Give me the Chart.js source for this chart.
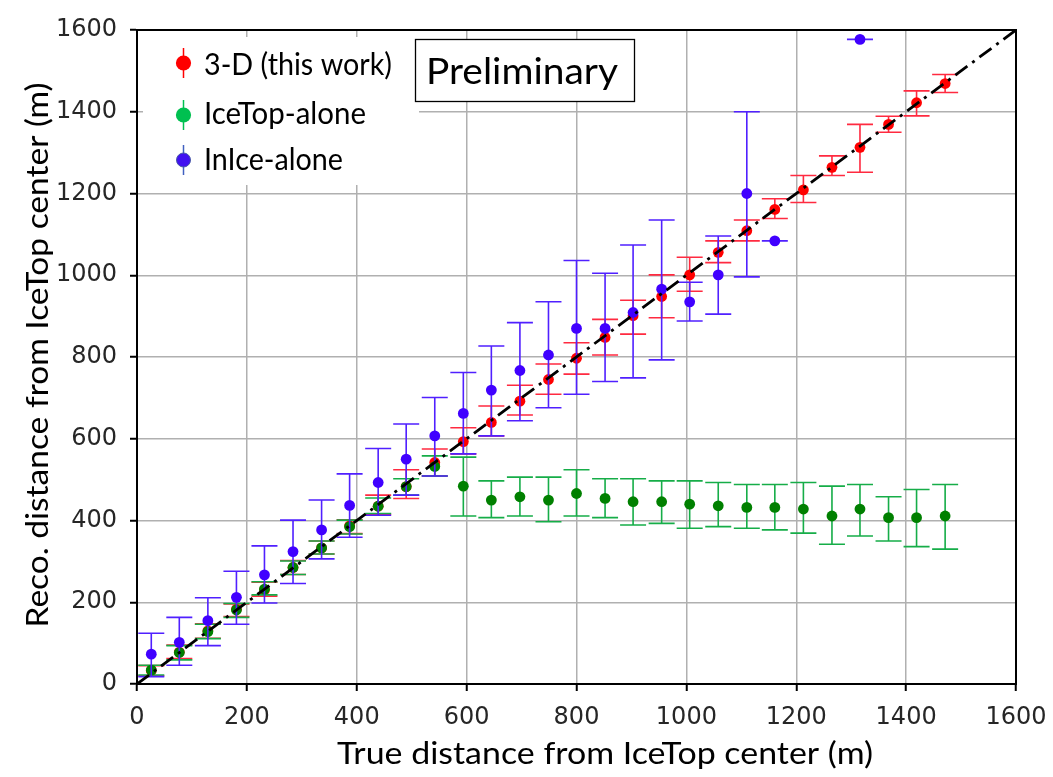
<!DOCTYPE html>
<html><head><meta charset="utf-8">
<script src="https://cdn.jsdelivr.net/npm/chart.js@4.4.1/dist/chart.umd.min.js"></script>
<style>html,body{margin:0;padding:0;background:#fff;} #wrap{width:1053px;height:777px;position:relative;overflow:hidden}</style>
</head><body><div id="wrap"><canvas id="c" width="1053" height="777"></canvas></div>
<script>
// ---- data ----
const trueDist = [26,77,129,181,232,284,336,387,439,490,542,594,645,697,749,800,852,903,955,1006,1058,1110,1161,1213,1265,1316,1368,1419,1471];

const reco3D     = [33,78,130,183,230,285,333,387,435,483,542,593,640,692,745,797,848,901,948,1001,1056,1109,1161,1209,1264,1313,1369,1422,1469];
const reco3DLow  = [20,62,112,165,215,268,318,368,415,454,509,563,607,658,709,758,805,856,896,961,1031,1084,1139,1178,1244,1252,1350,1390,1447];
const reco3DHigh = [45,95,147,196,249,302,350,402,462,524,575,627,680,731,783,835,892,939,1001,1044,1084,1135,1187,1244,1292,1369,1389,1451,1491];

const iceTop     = [34,77,128,181,232,285,333,385,435,483,532,484,450,458,450,466,454,446,446,440,436,432,432,428,411,428,407,407,411];
const iceTopLow  = [22,59,111,163,218,268,318,367,417,462,509,411,407,411,397,411,407,389,393,381,385,381,377,369,342,362,350,336,330];
const iceTopHigh = [46,94,146,197,250,301,350,401,455,502,558,555,497,506,506,524,502,502,497,497,493,488,488,493,484,488,458,476,488];

const inIce      = [73,102,155,212,267,324,377,437,493,550,607,662,719,767,805,870,870,909,966,935,1001,1200,1084,null,null,1577,null,null,null];
const inIceLow   = [18,46,94,146,198,246,306,359,413,462,509,563,607,644,676,709,740,749,793,888,905,996,1084,null,null,1577,null,null,null];
const inIceHigh  = [124,163,211,276,338,401,450,514,576,636,701,762,827,884,935,1036,1005,1074,1135,983,1096,1400,1084,null,null,1577,null,null,null];

const xTicks = [0,200,400,600,800,1000,1200,1400,1600];
const yTicks = [0,200,400,600,800,1000,1200,1400,1600];
const diagonal = [0,1600];

const seriesNames = ['3-D (this work)','IceTop-alone','InIce-alone'];
const xTitle = 'True distance from IceTop center (m)';
const yTitle = 'Reco. distance from IceTop center (m)';
const stampText = 'Preliminary';

// ---- build ----
function pts(ys){ const out=[]; trueDist.forEach((x,i)=>{ if(ys[i]!=null) out.push({x:x, y:ys[i]}); }); return out; }

const FAM = 'Lato, "Open Sans", sans-serif';

const errPlugin = {
  id:'errbars',
  beforeDatasetDraw(chart, args){
    const ds = chart.data.datasets[args.index];
    if(!ds.errLow) return;
    const xs = chart.scales.x, ys = chart.scales.y, ctx = chart.ctx;
    ctx.save();
    ctx.strokeStyle = ds.errColor; ctx.lineWidth = 1.6;
    trueDist.forEach((xv,i)=>{
      if(ds.errLow[i]==null) return;
      const px = xs.getPixelForValue(xv);
      const lo = ys.getPixelForValue(ds.errLow[i]);
      const hi = ys.getPixelForValue(ds.errHigh[i]);
      ctx.beginPath();
      ctx.moveTo(px, lo); ctx.lineTo(px, hi);
      ctx.moveTo(px-13, lo); ctx.lineTo(px+13, lo);
      ctx.moveTo(px-13, hi); ctx.lineTo(px+13, hi);
      ctx.stroke();
    });
    ctx.restore();
  }
};

// draw text at a given font size, squeezed horizontally to a target ink width
function fitText(ctx, text, size, width, x, y, align){
  ctx.font = size+'px '+FAM;
  const sx = width / ctx.measureText(text).width;
  ctx.save();
  ctx.translate(x, y); ctx.scale(sx, 1);
  ctx.textAlign = align; ctx.textBaseline = 'alphabetic';
  ctx.fillText(text, 0, 0);
  ctx.restore();
}

const decoPlugin = {
  id:'deco',
  afterDraw(chart){
    const ctx = chart.ctx, a = chart.chartArea;
    ctx.save();
    ctx.strokeStyle='#000'; ctx.lineWidth=2;
    ctx.strokeRect(a.left, a.top, a.right-a.left, a.bottom-a.top);
    // legend
    ctx.fillStyle='#fff'; ctx.fillRect(143, 37, 276, 148);
    const legCols = [['#ff0000','#ff0000'],['#00c050','#00c050'],['#4010f0','#4060c0']];
    const mY = [63, 115, 160], tY = [75, 123.5, 170], tW = [188, 162, 139];
    seriesNames.forEach((n,i)=>{
      ctx.strokeStyle = legCols[i][1]; ctx.lineWidth = 1.5;
      ctx.beginPath(); ctx.moveTo(183.5, mY[i]-15); ctx.lineTo(183.5, mY[i]+15); ctx.stroke();
      ctx.fillStyle = legCols[i][0];
      ctx.beginPath(); ctx.arc(183.5, mY[i], i==2?7:7.6, 0, Math.PI*2); ctx.fill();
      if(i==2){ ctx.strokeStyle='#4a5aa8'; ctx.lineWidth=1; ctx.stroke(); }
      ctx.fillStyle='#000';
      fitText(ctx, n, 30, tW[i], 204, tY[i], 'left');
    });
    // stamp
    ctx.fillStyle='#fff'; ctx.fillRect(415.5, 39.5, 219, 62);
    ctx.strokeStyle='#000'; ctx.lineWidth=1.3; ctx.strokeRect(415.5, 39.5, 219, 62);
    ctx.fillStyle='#000';
    fitText(ctx, stampText, 37, 192, 426, 83.5, 'left');
    // axis titles
    fitText(ctx, xTitle, 30, 536, 605, 764, 'center');
    ctx.translate(48, 355); ctx.rotate(-Math.PI/2);
    fitText(ctx, yTitle, 31, 545, 0, 0, 'center');
    ctx.restore();
  }
};

const tickFont = {family:'"DejaVu Sans"', size:24};

new Chart(document.getElementById('c'), {
  type:'scatter',
  data:{ datasets:[
    { type:'line', label:'y=x', data: diagonal.map(v=>({x:v,y:v})), borderColor:'#000', borderWidth:2.8,
      borderDash:[15,6,3,6], pointRadius:0, fill:false, order:0 },
    { label:seriesNames[2], data:pts(inIce), errLow:inIceLow, errHigh:inIceHigh, errColor:'#5020ff',
      backgroundColor:'#4000ff', borderWidth:0, pointRadius:5.4, order:1 },
    { label:seriesNames[1], data:pts(iceTop), errLow:iceTopLow, errHigh:iceTopHigh, errColor:'#16ad48',
      backgroundColor:'#008000', borderWidth:0, pointRadius:5.4, order:2 },
    { label:seriesNames[0], data:pts(reco3D), errLow:reco3DLow, errHigh:reco3DHigh, errColor:'#ff2a40',
      backgroundColor:'#ff0000', borderWidth:0, pointRadius:5.4, order:3 }
  ]},
  options:{
    responsive:false, animation:false, devicePixelRatio:1,
    layout:{ padding:{left:0, top:30, right:37, bottom:0} },
    plugins:{ legend:{display:false}, tooltip:{enabled:false} },
    scales:{
      x:{ type:'linear', min:0, max:1600,
          afterBuildTicks:s=>{ s.ticks = xTicks.map(v=>({value:v})); },
          afterFit:s=>{ s.height = 93; s.paddingLeft = 0; s.paddingRight = 0; },
          ticks:{ font:tickFont, color:'#262626', padding:12, callback:v=>String(v), maxRotation:0 },
          grid:{ color:'#b0b0b0', lineWidth:1.5, tickColor:'#000', tickLength:7, tickWidth:2 },
          border:{ color:'#000', width:2 } },
      y:{ type:'linear', min:0, max:1600,
          afterBuildTicks:s=>{ s.ticks = yTicks.map(v=>({value:v})); },
          afterFit:s=>{ s.width = 137; s.paddingTop = 0; s.paddingBottom = 0; },
          ticks:{ font:tickFont, color:'#262626', padding:13, callback:v=>String(v) },
          grid:{ color:'#b0b0b0', lineWidth:1.5, tickColor:'#000', tickLength:7, tickWidth:2 },
          border:{ color:'#000', width:2 } }
    }
  },
  plugins:[errPlugin, decoPlugin]
});
</script></body></html>
